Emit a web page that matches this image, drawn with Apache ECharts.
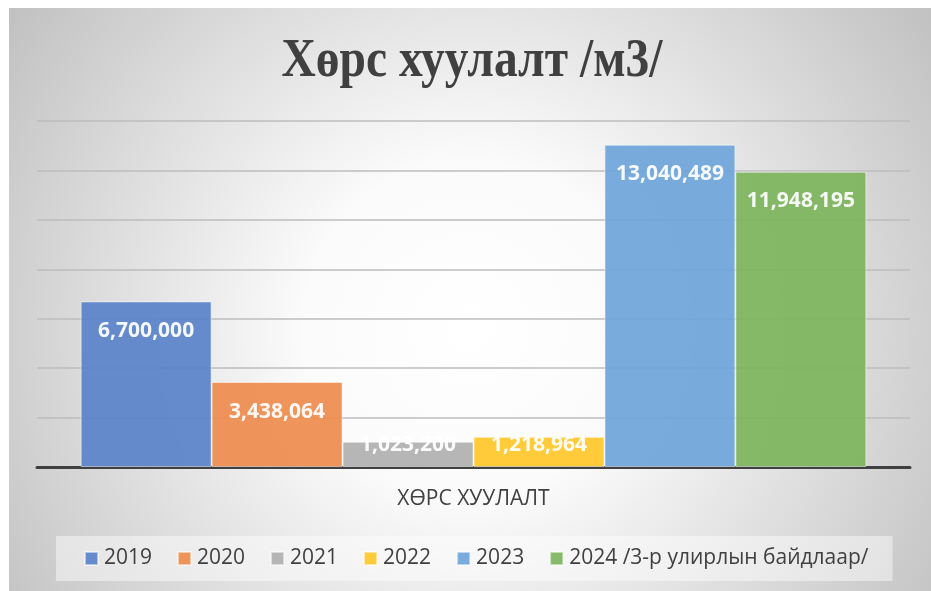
<!DOCTYPE html>
<html><head><meta charset="utf-8">
<script src="https://cdn.jsdelivr.net/npm/echarts@6/dist/echarts.min.js"></script>
<style>html,body{margin:0;padding:0;background:#fff}#c{width:931px;height:591px}</style>
</head><body><div id="c"></div>
<script>
const titleText = 'Хөрс хуулалт /м3/';
const categories = ['ХӨРС ХУУЛАЛТ'];
const seriesNames = ['2019', '2020', '2021', '2022', '2023', '2024 /3-р улирлын байдлаар/'];
const seriesValues = [6700000, 3438064, 1023200, 1218964, 13040489, 11948195];
const yMax = 14000000, yStep = 2000000;

const colors = ['#5a83c9', '#ee8c4e', '#b0b0b0', '#ffc72c', '#6fa6da', '#7db45c'];

const chart = echarts.init(document.getElementById('c'));
const series = seriesNames.map((name, i) => {
  const v = seriesValues[i];
  const small = v < 2000000;
  return {
    name, type: 'bar', barGap: '0%', barCategoryGap: '10%',
    itemStyle: { color: colors[i], opacity: 0.93, borderColor: 'rgba(255,255,255,0.55)', borderWidth: 1 },
    label: {
      show: true,
      position: small ? 'insideBottom' : 'insideTop',
      distance: small ? 11 : 19,
      color: '#ffffff', fontFamily: 'Open Sans', fontWeight: 'bold', fontSize: 21,
      formatter: p => p.value.toLocaleString('en-US')
    },
    data: [v]
  };
});

chart.setOption({
  animation: false,
  backgroundColor: '#ffffff',
  graphic: [
    { type: 'rect', z: -100, silent: true, shape: { x: 9, y: 8, width: 922, height: 583 },
      style: { fill: new echarts.graphic.RadialGradient(0.5, 0.55, 0.95, [
        { offset: 0, color: '#ffffff' }, { offset: 0.3, color: '#fbfbfb' }, { offset: 1, color: '#c2c2c2' }]) } },
    { type: 'text', z: 10, silent: true, x: 472, y: 35, scaleX: 0.88,
      style: { text: titleText, fill: '#404040', textAlign: 'center', textVerticalAlign: 'top',
        font: 'bold 54px "Liberation Serif"' } }
  ],
  legend: {
    left: 56, top: 536, padding: [12, 24, 12, 28], itemGap: 25, itemWidth: 13, itemHeight: 13,
    backgroundColor: 'rgba(255,255,255,0.45)',
    icon: 'rect',
    textStyle: { fontFamily: 'Open Sans', fontSize: 21, color: '#404040', padding: [0, 0, 0, 1] },
    data: seriesNames
  },
  grid: { left: 37, right: 21, top: 121, bottom: 124 },
  xAxis: {
    type: 'category', data: categories,
    axisLine: { lineStyle: { color: '#404040', width: 3 } },
    axisTick: { show: false },
    axisLabel: { margin: 22, fontFamily: 'Open Sans', fontSize: 21, color: '#404040' }
  },
  yAxis: {
    type: 'value', min: 0, max: yMax, interval: yStep,
    axisLabel: { show: false }, axisLine: { show: false }, axisTick: { show: false },
    splitLine: { lineStyle: { color: '#bdbdbd', width: 1.5 } }
  },
  series
});
</script></body></html>
